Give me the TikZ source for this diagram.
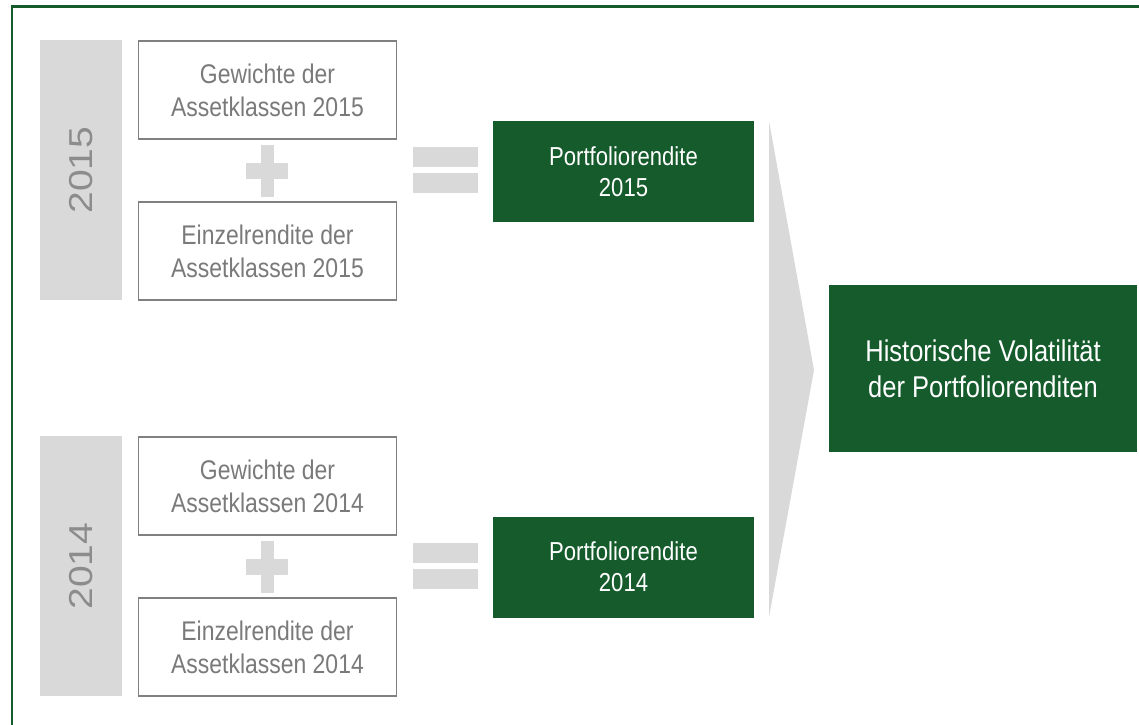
\documentclass[tikz,border=0pt]{standalone}
\usepackage{fontspec}
\setmainfont{Liberation Sans}[FakeStretch=0.85]
\newfontfamily\yearfont{Liberation Sans}
\definecolor{dgreen}{RGB}{21,91,44}
\definecolor{lgray}{RGB}{217,217,217}
\definecolor{bgray}{RGB}{128,128,128}
\definecolor{tgray}{RGB}{122,122,122}
\definecolor{ygray}{RGB}{140,140,140}
\begin{document}
\begin{tikzpicture}[x=1pt,y=-1pt,
  yearbar/.style={fill=lgray, minimum width=260pt, minimum height=82pt, inner sep=0pt, rotate=90, text=ygray, font=\yearfont\fontsize{39}{39}\selectfont},
  wbox/.style={draw=bgray, line width=1.8pt, fill=white, minimum width=258pt, minimum height=98pt, inner sep=0pt, align=center, text=tgray, font=\fontsize{27}{33}\selectfont},
  gbox/.style={fill=dgreen, inner sep=0pt, align=center, text=white},
  sign/.style={fill=lgray}]
\useasboundingbox (0,0) rectangle (1139,724);
\clip (0,0) rectangle (1139,724);
% outer frame
\draw[dgreen, line width=2.5pt] (12,6.5) rectangle (1160,745);

% year bars
\node[yearbar] (y15) at (81,170) {\scalebox{1}[0.85]{2015}};
\node[yearbar] (y14) at (81,566) {\scalebox{1}[0.85]{2014}};

% input boxes
\node[wbox] (g15) at (267.5,90) {Gewichte der\\Assetklassen 2015};
\node[wbox] (e15) at (267.5,251) {Einzelrendite der\\Assetklassen 2015};
\node[wbox] (g14) at (267.5,486) {Gewichte der\\Assetklassen 2014};
\node[wbox] (e14) at (267.5,647) {Einzelrendite der\\Assetklassen 2014};

% plus signs
\fill[sign] (261,145) rectangle (274,197);
\fill[sign] (246,163) rectangle (288,179);
\fill[sign] (261,541) rectangle (274,593);
\fill[sign] (246,559) rectangle (288,575);

% equals signs
\fill[sign] (413,147) rectangle (478,167);
\fill[sign] (413,173) rectangle (478,193);
\fill[sign] (413,543) rectangle (478,563);
\fill[sign] (413,569) rectangle (478,589);

% portfolio returns
\node[gbox, minimum width=261pt, minimum height=101pt, font=\fontsize{26}{31}\selectfont] (p15) at (623.5,171.5) {Portfoliorendite\\2015};
\node[gbox, minimum width=261pt, minimum height=101pt, font=\fontsize{26}{31}\selectfont] (p14) at (623.5,567) {Portfoliorendite\\2014};

% chevron
\fill[lgray] (769,121) -- (814,370) -- (769,617) -- cycle;

% result
\node[gbox, minimum width=308pt, minimum height=167pt, font=\fontsize{30}{36}\selectfont] (hv) at (983,368.5) {Historische Volatilität\\der Portfoliorenditen};
\end{tikzpicture}
\end{document}
